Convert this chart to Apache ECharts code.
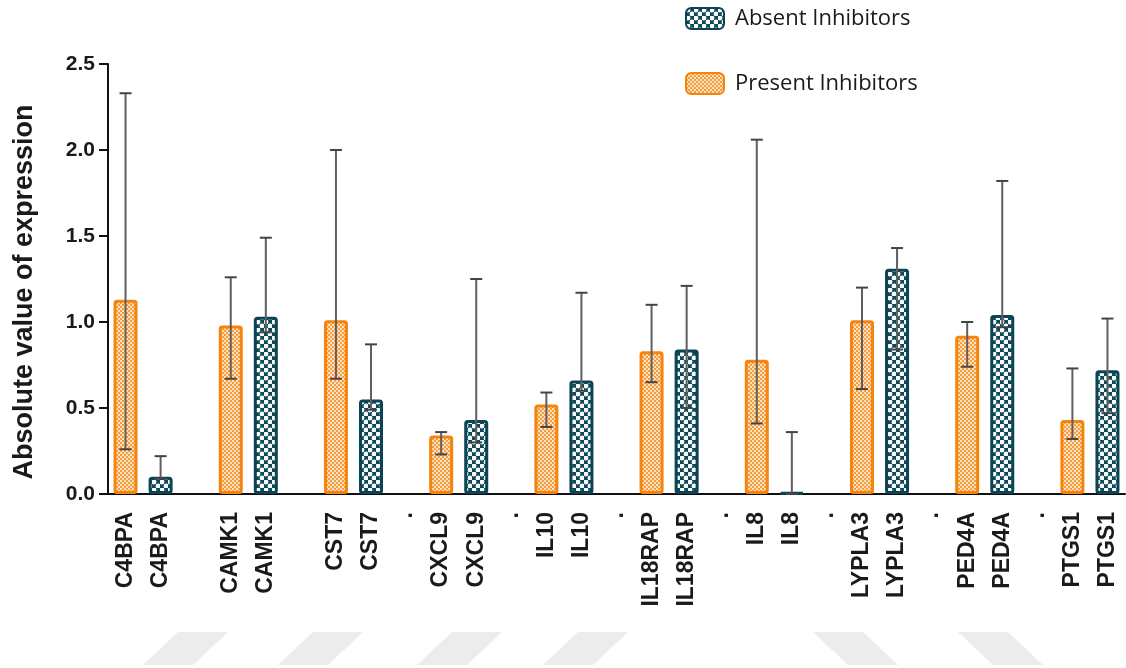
<!DOCTYPE html>
<html>
<head>
<meta charset="utf-8">
<script src="https://cdn.jsdelivr.net/npm/echarts@6/dist/echarts.min.js"></script>
<style>
html,body{margin:0;padding:0;background:#fff;}
#chart{width:1126px;height:668px;}
</style>
</head>
<body>
<div id="chart"></div>
<script>
// ---- data ----
const genes = ['C4BPA','CAMK1','CST7','CXCL9','IL10','IL18RAP','IL8','LYPLA3','PED4A','PTGS1'];
const separators = ['', '', '.', '.', '.', '.', '.', '.', '.'];
const presentMean = [1.13, 0.98, 1.01, 0.34, 0.52, 0.83, 0.78, 1.01, 0.92, 0.43];
const presentLow  = [0.26, 0.67, 0.67, 0.23, 0.39, 0.65, 0.41, 0.61, 0.74, 0.32];
const presentHigh = [2.33, 1.26, 2.00, 0.36, 0.59, 1.10, 2.06, 1.20, 1.00, 0.73];
const absentMean  = [0.10, 1.03, 0.55, 0.43, 0.66, 0.84, 0.01, 1.31, 1.04, 0.72];
const absentLow   = [0.09, 0.94, 0.49, 0.30, 0.60, 0.50, 0.00, 0.84, 0.97, 0.47];
const absentHigh  = [0.22, 1.49, 0.87, 1.25, 1.17, 1.21, 0.36, 1.43, 1.82, 1.02];
const yTicks = ['0.0','0.5','1.0','1.5','2.0','2.5'];

// ---- build categories (present, absent, separator) ----
const categories = [];
genes.forEach((g, i) => {
  categories.push(g, g);
  if (i < separators.length) categories.push(separators[i]);
});
const presentBars = categories.map(() => '-');
const absentBars = categories.map(() => '-');
const presentErr = [], absentErr = [];
genes.forEach((g, i) => {
  presentBars[3 * i] = presentMean[i];
  absentBars[3 * i + 1] = absentMean[i];
  presentErr.push([3 * i, presentLow[i], presentHigh[i]]);
  absentErr.push([3 * i + 1, absentLow[i], absentHigh[i]]);
});

// ---- patterns ----
function orangePattern() {
  const c = document.createElement('canvas');
  c.width = 4; c.height = 4;
  const ctx = c.getContext('2d');
  ctx.fillStyle = '#f79c3c';
  ctx.fillRect(0, 0, 4, 4);
  ctx.fillStyle = '#fde2c2';
  ctx.fillRect(0, 0, 2, 2);
  ctx.fillRect(2, 2, 2, 2);
  return c;
}
function tealPattern() {
  const c = document.createElement('canvas');
  c.width = 8; c.height = 8;
  const ctx = c.getContext('2d');
  ctx.fillStyle = '#0d4958';
  ctx.fillRect(0, 0, 8, 8);
  ctx.fillStyle = '#ffffff';
  ctx.beginPath(); ctx.arc(2, 2, 2.4, 0, Math.PI * 2); ctx.fill();
  ctx.beginPath(); ctx.arc(6, 6, 2.4, 0, Math.PI * 2); ctx.fill();
  return c;
}

function errRender(params, api) {
  const x = api.value(0);
  const lo = api.coord([x, api.value(1)]);
  const hi = api.coord([x, api.value(2)]);
  const w = 6;
  const st = { stroke: '#5f5f5f', lineWidth: 2 };
  return {
    type: 'group',
    children: [
      { type: 'line', shape: { x1: lo[0], y1: lo[1], x2: hi[0], y2: hi[1] }, style: st },
      { type: 'line', shape: { x1: hi[0] - w, y1: hi[1], x2: hi[0] + w, y2: hi[1] }, style: { stroke: '#444', lineWidth: 2 } },
      { type: 'line', shape: { x1: lo[0] - w, y1: lo[1], x2: lo[0] + w, y2: lo[1] }, style: { stroke: '#444', lineWidth: 2 } }
    ]
  };
}

function parallelogram(xb, dir) {
  // xb: left x; dir 1 => "/" , -1 => "\"
  const y0 = 632, y1 = 665, w = 50, s = 35;
  const pts = dir > 0
    ? [[xb, y1], [xb + w, y1], [xb + w + s, y0], [xb + s, y0]]
    : [[xb + s, y1], [xb + s + w, y1], [xb + w, y0], [xb, y0]];
  return { type: 'polygon', silent: true, z: -10, shape: { points: pts }, style: { fill: '#ececec' } };
}

const chart = echarts.init(document.getElementById('chart'));
chart.setOption({
  animation: false,
  backgroundColor: '#ffffff',
  graphic: [
    parallelogram(143, 1), parallelogram(278, 1), parallelogram(417, 1), parallelogram(543, 1),
    parallelogram(813, -1), parallelogram(958, -1)
  ],
  legend: {
    data: ['Absent Inhibitors', 'Present Inhibitors'],
    orient: 'vertical',
    left: 680,
    top: 2,
    itemWidth: 38,
    itemHeight: 21,
    itemGap: 42,
    textStyle: { fontFamily: 'Open Sans', fontSize: 22, lineHeight: 21, color: '#1a1a1a', padding: [0, 0, 0, 6] }
  },
  grid: { left: 108, right: 1, top: 64, bottom: 174, containLabel: false },
  xAxis: {
    type: 'category',
    data: categories,
    axisLine: { lineStyle: { color: '#111', width: 2 } },
    axisTick: { alignWithLabel: true, interval: 0, length: 10, lineStyle: { color: '#111', width: 2 } },
    axisLabel: {
      interval: 0, rotate: 90, margin: 18,
      fontFamily: 'Liberation Sans', fontWeight: 'bold', fontSize: 23, color: '#1a1a1a'
    }
  },
  yAxis: {
    type: 'value',
    min: 0, max: 2.5, interval: 0.5,
    name: 'Absolute value of expression',
    nameLocation: 'middle',
    nameGap: 70,
    nameTextStyle: { fontFamily: 'Liberation Sans', fontWeight: 'bold', fontSize: 27, color: '#1a1a1a', padding: [0, 26, 0, 0] },
    axisLine: { show: true, lineStyle: { color: '#111', width: 2 } },
    axisTick: { show: true, length: 9, lineStyle: { color: '#111', width: 2 } },
    splitLine: { show: false },
    axisLabel: {
      margin: 13,
      fontFamily: 'Liberation Sans', fontWeight: 'bold', fontSize: 21, color: '#1a1a1a',
      formatter: v => yTicks[Math.round(v / 0.5)]
    }
  },
  series: [
    {
      name: 'Present Inhibitors',
      type: 'bar',
      data: presentBars,
      barWidth: 24,
      barGap: '-100%',
      itemStyle: {
        color: { image: orangePattern(), repeat: 'repeat' },
        borderColor: '#f5840f', borderWidth: 3, borderRadius: 2
      },
      z: 2
    },
    {
      name: 'Absent Inhibitors',
      type: 'bar',
      data: absentBars,
      barWidth: 24,
      barGap: '-100%',
      itemStyle: {
        color: { image: tealPattern(), repeat: 'repeat' },
        borderColor: '#0b4454', borderWidth: 3, borderRadius: 2
      },
      z: 2
    },
    {
      name: 'presentErr', type: 'custom', renderItem: errRender,
      data: presentErr, encode: { x: 0, y: [1, 2] }, z: 5, silent: true
    },
    {
      name: 'absentErr', type: 'custom', renderItem: errRender,
      data: absentErr, encode: { x: 0, y: [1, 2] }, z: 5, silent: true
    }
  ]
});
</script>
</body>
</html>
